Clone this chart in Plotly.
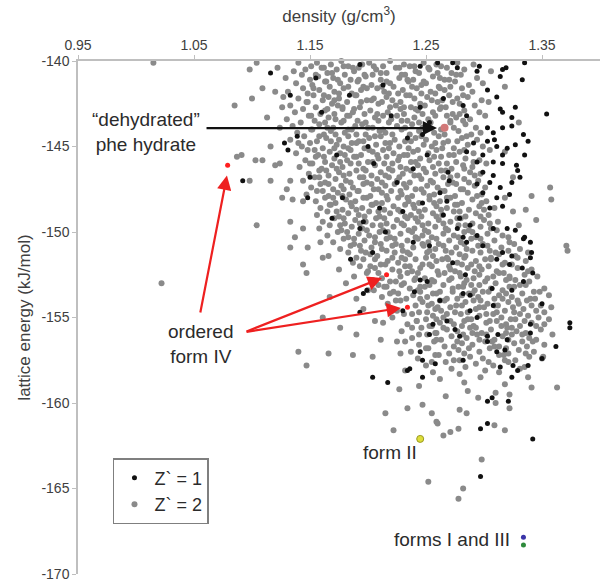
import plotly.graph_objects as go

# Computed crystal structures: (density g/cm3, lattice energy kJ/mol)
# Z' = 2 structures
gray_points = [
 (1.14,-140.1),(1.151,-140.3),(1.156,-140.1),(1.168,-140.2),(1.177,-140.0),(1.183,-140.3),(1.195,-140.2),(1.201,-140.1),(1.213,-140.3),(1.219,-140.0),(1.231,-140.2),(1.236,-140.3),(1.248,-140.1),(1.259,-140.2),(1.263,-140.3),(1.277,-140.1),(1.291,-140.2),
 (1.136,-140.6),(1.146,-140.5),(1.16,-140.4),(1.165,-140.7),(1.173,-140.5),(1.188,-140.6),(1.192,-140.4),(1.207,-140.5),(1.216,-140.7),(1.224,-140.4),(1.241,-140.6),(1.244,-140.7),(1.253,-140.5),(1.268,-140.4),(1.272,-140.7),(1.283,-140.5),(1.306,-140.6),
 (1.129,-141.0),(1.143,-140.8),(1.15,-141.1),(1.157,-140.9),(1.17,-141.0),(1.18,-140.8),(1.185,-141.1),(1.198,-140.9),(1.204,-140.8),(1.211,-141.1),(1.227,-141.0),(1.232,-140.8),(1.239,-141.1),(1.256,-140.9),(1.262,-141.0),(1.27,-141.1),(1.28,-140.8),(1.294,-141.0),
 (1.138,-141.3),(1.152,-141.4),(1.163,-141.2),(1.167,-141.5),(1.176,-141.3),(1.191,-141.2),(1.196,-141.5),(1.203,-141.4),(1.219,-141.3),(1.222,-141.5),(1.235,-141.2),(1.246,-141.4),(1.25,-141.3),(1.261,-141.5),(1.275,-141.2),(1.287,-141.4),(1.299,-141.3),
 (1.131,-141.8),(1.144,-141.6),(1.148,-141.9),(1.158,-141.7),(1.171,-141.8),(1.179,-141.6),(1.186,-141.9),(1.194,-141.7),(1.208,-141.6),(1.214,-141.8),(1.226,-141.9),(1.23,-141.7),(1.242,-141.6),(1.254,-141.8),(1.258,-141.9),(1.266,-141.7),(1.281,-141.6),(1.29,-141.8),
 (1.127,-142.1),(1.14,-142.2),(1.153,-142.0),(1.161,-142.3),(1.166,-142.1),(1.175,-142.2),(1.189,-142.0),(1.199,-142.3),(1.205,-142.2),(1.216,-142.1),(1.221,-142.3),(1.233,-142.0),(1.24,-142.2),(1.251,-142.1),(1.264,-142.3),(1.27,-142.0),(1.277,-142.2),(1.286,-142.1),(1.298,-142.3),
 (1.133,-142.6),(1.147,-142.4),(1.155,-142.7),(1.169,-142.5),(1.174,-142.6),(1.182,-142.4),(1.193,-142.7),(1.209,-142.5),(1.212,-142.4),(1.224,-142.6),(1.237,-142.7),(1.245,-142.5),(1.249,-142.6),(1.26,-142.4),(1.267,-142.7),(1.279,-142.5),(1.292,-142.6),(1.304,-142.4),
 (1.137,-143.0),(1.144,-142.8),(1.159,-143.1),(1.163,-142.9),(1.178,-142.8),(1.187,-143.0),(1.197,-143.1),(1.202,-142.9),(1.217,-143.0),(1.228,-142.8),(1.231,-143.1),(1.243,-142.9),(1.256,-143.0),(1.262,-142.8),(1.273,-143.1),(1.283,-142.9),(1.296,-143.0),
 (1.13,-143.4),(1.149,-143.2),(1.154,-143.5),(1.166,-143.3),(1.172,-143.4),(1.184,-143.2),(1.191,-143.5),(1.206,-143.3),(1.213,-143.2),(1.22,-143.4),(1.234,-143.5),(1.24,-143.3),(1.252,-143.4),(1.258,-143.2),(1.271,-143.5),(1.276,-143.3),(1.288,-143.4),(1.301,-143.2),
 (1.135,-143.8),(1.142,-143.6),(1.158,-143.7),(1.17,-143.9),(1.177,-143.6),(1.189,-143.8),(1.195,-143.7),(1.204,-143.9),(1.218,-143.6),(1.225,-143.8),(1.238,-143.7),(1.247,-143.9),(1.254,-143.6),(1.271,-143.6),(1.284,-143.7),(1.293,-143.9),
 (1.139,-144.2),(1.151,-144.0),(1.162,-144.3),(1.168,-144.1),(1.18,-144.2),(1.186,-144.0),(1.198,-144.3),(1.21,-144.1),(1.215,-144.2),(1.229,-144.0),(1.236,-144.3),(1.244,-144.1),(1.257,-144.2),(1.263,-144.0),(1.278,-144.1),(1.289,-144.3),(1.297,-144.2),
 (1.133,-144.6),(1.145,-144.4),(1.156,-144.7),(1.164,-144.5),(1.175,-144.6),(1.183,-144.4),(1.192,-144.7),(1.201,-144.5),(1.211,-144.4),(1.223,-144.6),(1.232,-144.7),(1.241,-144.5),(1.25,-144.6),(1.261,-144.4),(1.269,-144.7),(1.281,-144.5),(1.294,-144.6),
 (1.143,-145.0),(1.15,-144.8),(1.161,-145.1),(1.173,-144.9),(1.179,-145.0),(1.19,-144.8),(1.197,-145.1),(1.207,-144.9),(1.219,-144.8),(1.227,-145.0),(1.235,-145.1),(1.248,-144.9),(1.255,-145.0),(1.265,-144.8),(1.274,-145.1),(1.286,-144.9),(1.299,-145.0),
 (1.138,-145.4),(1.148,-145.2),(1.157,-145.5),(1.167,-145.3),(1.176,-145.4),(1.185,-145.2),(1.194,-145.5),(1.204,-145.3),(1.213,-145.2),(1.222,-145.4),(1.231,-145.5),(1.239,-145.3),(1.252,-145.4),(1.259,-145.2),(1.27,-145.5),(1.279,-145.3),(1.291,-145.4),(1.305,-145.2),
 (1.146,-145.8),(1.155,-145.6),(1.163,-145.9),(1.171,-145.7),(1.182,-145.8),(1.188,-145.6),(1.2,-145.9),(1.209,-145.7),(1.216,-145.6),(1.226,-145.8),(1.237,-145.9),(1.245,-145.7),(1.253,-145.8),(1.263,-145.6),(1.276,-145.9),(1.284,-145.7),(1.296,-145.8),
 (1.141,-146.2),(1.152,-146.0),(1.16,-146.3),(1.169,-146.1),(1.178,-146.2),(1.192,-146.0),(1.196,-146.3),(1.206,-146.1),(1.214,-146.0),(1.228,-146.2),(1.233,-146.3),(1.243,-146.1),(1.256,-146.2),(1.261,-146.0),(1.272,-146.3),(1.282,-146.1),(1.29,-146.2),(1.302,-146.0),
 (1.149,-146.6),(1.158,-146.4),(1.166,-146.7),(1.175,-146.5),(1.184,-146.6),(1.19,-146.4),(1.203,-146.7),(1.211,-146.5),(1.221,-146.4),(1.23,-146.6),(1.24,-146.7),(1.25,-146.5),(1.258,-146.6),(1.267,-146.4),(1.277,-146.7),(1.288,-146.5),(1.297,-146.6),
 (1.144,-147.0),(1.154,-146.8),(1.163,-147.1),(1.172,-146.9),(1.181,-147.0),(1.193,-146.8),(1.199,-147.1),(1.208,-146.9),(1.218,-146.8),(1.225,-147.0),(1.236,-147.1),(1.246,-146.9),(1.254,-147.0),(1.265,-146.8),(1.273,-147.1),(1.283,-146.9),(1.295,-147.0),
 (1.151,-147.4),(1.159,-147.2),(1.17,-147.5),(1.177,-147.3),(1.187,-147.4),(1.196,-147.2),(1.205,-147.5),(1.215,-147.3),(1.223,-147.2),(1.233,-147.4),(1.241,-147.5),(1.251,-147.3),(1.26,-147.4),(1.269,-147.2),(1.28,-147.5),(1.292,-147.3),(1.301,-147.4),
 (1.147,-147.8),(1.156,-147.6),(1.166,-147.9),(1.174,-147.7),(1.184,-147.8),(1.191,-147.6),(1.202,-147.9),(1.212,-147.7),(1.22,-147.6),(1.229,-147.8),(1.238,-147.9),(1.248,-147.7),(1.257,-147.8),(1.266,-147.6),(1.275,-147.9),(1.286,-147.7),(1.298,-147.8),
 (1.155,-148.2),(1.163,-148.0),(1.172,-148.3),(1.181,-148.1),(1.189,-148.2),(1.199,-148.0),(1.207,-148.3),(1.217,-148.1),(1.226,-148.0),(1.235,-148.2),(1.244,-148.3),(1.253,-148.1),(1.262,-148.2),(1.271,-148.0),(1.281,-148.3),(1.29,-148.1),(1.302,-148.2),(1.318,-148.0),
 (1.159,-148.6),(1.168,-148.4),(1.178,-148.7),(1.186,-148.5),(1.195,-148.6),(1.204,-148.4),(1.214,-148.7),(1.222,-148.5),(1.232,-148.4),(1.24,-148.6),(1.249,-148.7),(1.259,-148.5),(1.268,-148.6),(1.277,-148.4),(1.287,-148.7),(1.296,-148.5),(1.309,-148.6),
 (1.156,-149.0),(1.165,-148.8),(1.175,-149.1),(1.183,-148.9),(1.192,-149.0),(1.201,-148.8),(1.21,-149.1),(1.219,-148.9),(1.228,-148.8),(1.237,-149.0),(1.246,-149.1),(1.256,-148.9),(1.264,-149.0),(1.274,-148.8),(1.284,-149.1),(1.293,-148.9),(1.304,-149.0),(1.325,-148.8),
 (1.161,-149.4),(1.171,-149.2),(1.18,-149.5),(1.189,-149.3),(1.198,-149.4),(1.207,-149.2),(1.216,-149.5),(1.225,-149.3),(1.234,-149.2),(1.243,-149.4),(1.252,-149.5),(1.261,-149.3),(1.271,-149.4),(1.28,-149.2),(1.29,-149.5),(1.3,-149.3),(1.312,-149.4),
 (1.158,-149.8),(1.167,-149.6),(1.177,-149.9),(1.186,-149.7),(1.195,-149.8),(1.204,-149.6),(1.213,-149.9),(1.222,-149.7),(1.231,-149.6),(1.24,-149.8),(1.249,-149.9),(1.258,-149.7),(1.267,-149.8),(1.278,-149.6),(1.287,-149.9),(1.297,-149.7),(1.306,-149.8),(1.33,-149.6),
 (1.165,-150.2),(1.174,-150.0),(1.183,-150.3),(1.192,-150.1),(1.201,-150.2),(1.21,-150.0),(1.219,-150.3),(1.228,-150.1),(1.238,-150.0),(1.247,-150.2),(1.255,-150.3),(1.265,-150.1),(1.274,-150.2),(1.283,-150.0),(1.293,-150.3),(1.303,-150.1),(1.316,-150.2),
 (1.17,-150.6),(1.179,-150.4),(1.188,-150.7),(1.197,-150.5),(1.206,-150.6),(1.216,-150.4),(1.224,-150.7),(1.234,-150.5),(1.243,-150.4),(1.252,-150.6),(1.261,-150.7),(1.27,-150.5),(1.28,-150.6),(1.289,-150.4),(1.299,-150.7),(1.309,-150.5),(1.322,-150.6),
 (1.176,-151.0),(1.185,-150.8),(1.194,-151.1),(1.203,-150.9),(1.212,-151.0),(1.221,-150.8),(1.23,-151.1),(1.239,-150.9),(1.248,-150.8),(1.258,-151.0),(1.267,-151.1),(1.276,-150.9),(1.285,-151.0),(1.295,-150.8),(1.305,-151.1),(1.315,-150.9),(1.331,-151.0),
 (1.166,-151.4),(1.183,-151.2),(1.19,-151.5),(1.202,-151.3),(1.208,-151.4),(1.223,-151.2),(1.229,-151.5),(1.236,-151.3),(1.251,-151.2),(1.256,-151.4),(1.268,-151.5),(1.279,-151.3),(1.284,-151.4),(1.297,-151.2),(1.306,-151.5),(1.313,-151.3),(1.327,-151.4),(1.338,-151.2),
 (1.187,-151.8),(1.196,-151.6),(1.211,-151.9),(1.217,-151.7),(1.226,-151.8),(1.241,-151.6),(1.247,-151.9),(1.259,-151.7),(1.264,-151.6),(1.277,-151.8),(1.289,-151.9),(1.293,-151.7),(1.301,-151.6),(1.318,-151.8),(1.324,-151.9),(1.336,-151.7),
 (1.175,-152.2),(1.193,-152.0),(1.2,-152.3),(1.206,-152.1),(1.221,-152.2),(1.232,-152.0),(1.238,-152.3),(1.245,-152.1),(1.255,-152.0),(1.271,-152.2),(1.275,-152.3),(1.286,-152.1),(1.298,-152.2),(1.304,-152.0),(1.311,-152.3),(1.329,-152.1),(1.341,-152.2),
 (1.188,-152.6),(1.199,-152.4),(1.212,-152.7),(1.219,-152.9),(1.228,-152.6),(1.234,-152.4),(1.249,-152.7),(1.261,-152.5),(1.266,-152.4),(1.28,-152.6),(1.291,-152.7),(1.296,-152.5),(1.308,-152.6),(1.317,-152.4),(1.322,-152.7),(1.335,-152.5),(1.346,-152.6),
 (1.181,-153.0),(1.203,-152.8),(1.209,-153.1),(1.224,-152.9),(1.231,-153.0),(1.24,-152.8),(1.253,-153.1),(1.257,-152.9),(1.27,-152.8),(1.283,-153.0),(1.289,-153.1),(1.301,-152.9),(1.31,-153.0),(1.319,-152.8),(1.331,-153.1),(1.339,-152.9),
 (1.205,-153.4),(1.214,-153.2),(1.222,-153.5),(1.236,-153.3),(1.243,-153.4),(1.249,-153.2),(1.262,-153.5),(1.273,-153.3),(1.278,-153.2),(1.292,-153.4),(1.299,-153.5),(1.306,-153.3),(1.316,-153.4),(1.326,-153.2),(1.343,-153.5),(1.352,-153.3),
 (1.212,-153.8),(1.219,-153.6),(1.233,-153.9),(1.239,-153.7),(1.251,-153.8),(1.259,-153.6),(1.268,-153.9),(1.281,-153.7),(1.287,-153.6),(1.295,-153.8),(1.309,-153.9),(1.313,-153.7),(1.324,-153.8),(1.333,-153.6),(1.34,-153.9),(1.356,-153.7),
 (1.217,-154.2),(1.228,-154.0),(1.241,-154.3),(1.247,-154.1),(1.255,-154.2),(1.266,-154.0),(1.276,-154.3),(1.284,-154.1),(1.297,-154.0),(1.303,-154.2),(1.312,-154.3),(1.321,-154.1),(1.33,-154.2),(1.337,-154.0),(1.349,-154.3),
 (1.225,-154.6),(1.244,-154.7),(1.258,-154.5),(1.263,-154.6),(1.271,-154.4),(1.286,-154.7),(1.293,-154.5),(1.3,-154.4),(1.318,-154.6),(1.326,-154.7),(1.334,-154.5),(1.345,-154.6),(1.358,-154.4),
 (1.221,-155.0),(1.231,-154.8),(1.25,-155.1),(1.256,-154.9),(1.265,-155.0),(1.28,-154.8),(1.289,-155.1),(1.296,-154.9),(1.308,-154.8),(1.315,-155.0),(1.323,-155.1),(1.338,-154.9),(1.347,-155.0),
 (1.234,-155.4),(1.242,-155.2),(1.253,-155.5),(1.262,-155.3),(1.274,-155.4),(1.283,-155.2),(1.291,-155.5),(1.302,-155.3),(1.311,-155.2),(1.319,-155.4),(1.331,-155.5),(1.341,-155.3),(1.352,-155.4),
 (1.229,-155.8),(1.246,-155.6),(1.259,-155.9),(1.268,-155.7),(1.277,-155.8),(1.288,-155.6),(1.298,-155.9),(1.306,-155.7),(1.32,-155.6),(1.328,-155.8),(1.336,-155.9),(1.349,-155.7),
 (1.238,-156.2),(1.251,-156.0),(1.263,-156.3),(1.272,-156.1),(1.285,-156.2),(1.294,-156.0),(1.309,-156.3),(1.316,-156.1),(1.324,-156.0),(1.339,-156.2),(1.345,-156.3),
 (1.244,-156.6),(1.257,-156.4),(1.266,-156.7),(1.281,-156.5),(1.29,-156.6),(1.301,-156.4),(1.313,-156.7),(1.326,-156.5),(1.333,-156.4),(1.352,-156.6),
 (1.237,-157.0),(1.252,-156.8),(1.27,-157.1),(1.278,-156.9),(1.296,-157.0),(1.305,-156.8),(1.321,-157.1),(1.33,-156.9),(1.343,-157.0),
 (1.243,-157.4),(1.261,-157.2),(1.274,-157.5),(1.288,-157.3),(1.299,-157.4),(1.317,-157.2),(1.327,-157.5),(1.339,-157.3),(1.35,-157.4),
 (1.25,-157.8),(1.267,-157.6),(1.284,-157.9),(1.293,-157.7),(1.308,-157.8),(1.321,-157.6),(1.335,-157.9),
 (1.256,-158.2),(1.272,-158.0),(1.279,-158.3),(1.301,-158.1),(1.313,-158.2),(1.331,-158.0),
 (1.162,-140.4),(1.179,-140.3),(1.187,-140.4),(1.205,-140.3),(1.227,-140.4),(1.24,-140.3),(1.252,-140.4),
 (1.155,-140.8),(1.169,-140.7),(1.197,-140.8),(1.211,-140.7),(1.229,-140.8),(1.26,-140.7),(1.276,-140.8),
 (1.164,-141.2),(1.174,-141.1),(1.192,-141.1),(1.216,-141.2),(1.234,-141.1),(1.248,-141.2),(1.266,-141.1),
 (1.153,-141.6),(1.183,-141.5),(1.199,-141.6),(1.212,-141.5),(1.238,-141.5),(1.262,-141.6),(1.271,-141.5),
 (1.162,-142.0),(1.175,-141.9),(1.19,-142.0),(1.218,-141.9),(1.236,-142.0),(1.246,-141.9),(1.282,-142.0),
 (1.148,-142.4),(1.171,-142.3),(1.194,-142.4),(1.203,-142.3),(1.228,-142.4),(1.255,-142.3),(1.273,-142.4),
 (1.165,-142.8),(1.178,-142.7),(1.188,-142.8),(1.219,-142.7),(1.231,-142.7),(1.241,-142.8),(1.263,-142.7),
 (1.151,-143.2),(1.171,-143.1),(1.182,-143.2),(1.208,-143.1),(1.225,-143.2),(1.247,-143.1),(1.268,-143.2),(1.279,-143.1),
 (1.163,-143.6),(1.179,-143.5),(1.198,-143.6),(1.209,-143.5),(1.229,-143.5),(1.244,-143.6),(1.282,-143.5),
 (1.152,-144.0),(1.165,-143.9),(1.183,-144.0),(1.2,-143.9),(1.213,-144.0),(1.232,-143.9),(1.25,-144.0),(1.274,-143.9),
 (1.158,-144.4),(1.172,-144.3),(1.19,-144.3),(1.206,-144.4),(1.221,-144.3),(1.246,-144.4),(1.266,-144.3),(1.285,-144.4),
 (1.14,-144.8),(1.168,-144.7),(1.186,-144.8),(1.196,-144.7),(1.215,-144.8),(1.237,-144.7),(1.258,-144.8),(1.277,-144.7),
 (1.154,-145.2),(1.171,-145.1),(1.183,-145.1),(1.201,-145.2),(1.218,-145.1),(1.243,-145.2),(1.264,-145.1),(1.283,-145.2),
 (1.162,-145.6),(1.18,-145.5),(1.19,-145.6),(1.208,-145.5),(1.227,-145.6),(1.234,-145.5),(1.257,-145.6),(1.274,-145.5),
 (1.15,-146.0),(1.176,-145.9),(1.185,-146.0),(1.204,-145.9),(1.221,-146.0),(1.241,-145.9),(1.268,-146.0),(1.291,-145.9),
 (1.164,-146.4),(1.173,-146.3),(1.198,-146.4),(1.218,-146.3),(1.237,-146.4),(1.248,-146.3),(1.263,-146.4),(1.283,-146.3),
 (1.158,-146.8),(1.179,-146.7),(1.196,-146.8),(1.215,-146.7),(1.227,-146.8),(1.244,-146.7),(1.271,-146.8),(1.292,-146.7),
 (1.166,-147.2),(1.185,-147.1),(1.203,-147.2),(1.212,-147.1),(1.231,-147.2),(1.256,-147.1),(1.276,-147.2),(1.287,-147.1),
 (1.161,-147.6),(1.179,-147.5),(1.192,-147.6),(1.209,-147.5),(1.228,-147.6),(1.246,-147.5),(1.263,-147.6),(1.282,-147.5),
 (1.17,-148.0),(1.178,-147.9),(1.196,-148.0),(1.216,-147.9),(1.234,-148.0),(1.253,-147.9),(1.268,-148.0),(1.294,-147.9),
 (1.167,-148.4),(1.185,-148.3),(1.203,-148.4),(1.212,-148.3),(1.239,-148.4),(1.257,-148.3),(1.275,-148.4),(1.298,-148.3),
 (1.173,-148.8),(1.19,-148.7),(1.209,-148.8),(1.226,-148.7),(1.244,-148.8),(1.263,-148.7),(1.279,-148.8),(1.3,-148.7),
 (1.179,-149.2),(1.197,-149.1),(1.214,-149.2),(1.232,-149.1),(1.241,-149.2),(1.259,-149.1),(1.277,-149.2),(1.297,-149.1),
 (1.176,-149.6),(1.193,-149.5),(1.211,-149.6),(1.229,-149.5),(1.247,-149.6),(1.265,-149.5),(1.284,-149.6),(1.305,-149.5),
 (1.182,-150.0),(1.199,-149.9),(1.217,-150.0),(1.235,-149.9),(1.252,-150.0),(1.269,-149.9),(1.29,-150.0),(1.311,-149.9),
 (1.188,-150.4),(1.206,-150.3),(1.223,-150.4),(1.241,-150.3),(1.259,-150.4),(1.278,-150.3),(1.297,-150.4),(1.321,-150.3),
 (1.193,-150.8),(1.211,-150.7),(1.229,-150.8),(1.247,-150.7),(1.265,-150.8),(1.283,-150.7),(1.303,-150.8),(1.326,-150.7),
 (1.198,-151.2),(1.216,-151.1),(1.234,-151.2),(1.253,-151.1),(1.272,-151.2),(1.29,-151.1),(1.31,-151.2),(1.321,-151.1),
 (1.206,-151.6),(1.221,-151.5),(1.232,-151.6),(1.25,-151.5),(1.269,-151.6),(1.283,-151.5),(1.306,-151.6),(1.329,-151.5),
 (1.202,-152.0),(1.215,-151.9),(1.236,-152.0),(1.253,-151.9),(1.27,-152.0),(1.281,-151.9),(1.296,-152.0),(1.316,-151.9),
 (1.209,-152.4),(1.227,-152.3),(1.243,-152.4),(1.26,-152.3),(1.279,-152.4),(1.292,-152.3),(1.313,-152.4),(1.338,-152.3),
 (1.204,-152.8),(1.241,-152.7),(1.255,-152.8),(1.272,-152.7),(1.285,-152.8),(1.303,-152.7),(1.327,-152.8),
 (1.216,-153.2),(1.229,-153.1),(1.245,-153.2),(1.265,-153.1),(1.282,-153.2),(1.296,-153.1),(1.322,-153.2),(1.336,-153.1),
 (1.226,-153.6),(1.245,-153.5),(1.256,-153.6),(1.273,-153.5),(1.29,-153.6),(1.304,-153.5),(1.319,-153.6),(1.348,-153.5),
 (1.224,-154.0),(1.245,-153.9),(1.262,-154.0),(1.277,-153.9),(1.291,-154.0),(1.316,-153.9),(1.329,-154.0),(1.344,-153.9),
 (1.252,-154.3),(1.26,-154.4),(1.281,-154.3),(1.296,-154.4),(1.309,-154.3),(1.325,-154.4),(1.341,-154.3),
 (1.238,-154.8),(1.251,-154.7),(1.268,-154.8),(1.275,-154.7),(1.302,-154.8),(1.311,-154.7),(1.331,-154.8),(1.352,-154.7),
 (1.242,-155.2),(1.259,-155.1),(1.271,-155.2),(1.286,-155.1),(1.305,-155.2),(1.327,-155.1),(1.335,-155.2),(1.356,-155.1),
 (1.238,-155.6),(1.255,-155.5),(1.265,-155.6),(1.281,-155.5),(1.293,-155.6),(1.315,-155.5),(1.324,-155.6),(1.345,-155.5),
 (1.244,-156.0),(1.258,-155.9),(1.282,-156.0),(1.29,-155.9),(1.302,-156.0),(1.319,-155.9),(1.333,-156.0),
 (1.232,-156.4),(1.259,-156.3),(1.277,-156.4),(1.296,-156.3),(1.307,-156.4),(1.321,-156.3),(1.342,-156.4),
 (1.25,-156.8),(1.274,-156.7),(1.287,-156.8),(1.309,-156.7),(1.319,-156.8),(1.337,-156.7),
 (1.258,-157.2),(1.283,-157.1),(1.313,-157.2),(1.336,-157.1),
 (1.255,-157.6),(1.279,-157.5),(1.304,-157.6),(1.318,-157.5),
 (1.262,-158.6),(1.283,-158.8),(1.297,-158.5),(1.318,-158.9),(1.338,-158.5),(1.341,-159.1),(1.363,-159.1),(1.286,-159.3),
 (1.31,-159.4),(1.322,-159.5),(1.295,-159.7),(1.31,-160.0),(1.322,-160.3),(1.247,-160.1),(1.234,-160.3),(1.255,-160.6),
 (1.279,-160.4),(1.285,-160.6),(1.215,-160.6),(1.222,-161.6),(1.26,-161.2),(1.265,-161.9),(1.271,-161.7),(1.278,-161.5),
 (1.309,-161.3),(1.318,-161.6),(1.298,-163.3),(1.252,-164.6),(1.282,-165.0),(1.278,-165.6),(1.227,-159.2),(1.244,-159.0),
 (1.267,-159.6),(1.259,-161.1),
 (1.015,-140.1),(1.098,-140.5),(1.104,-140.1),(1.109,-141.6),(1.12,-141.8),(1.122,-140.4),(1.1,-142.2),(1.085,-142.6),
 (1.126,-142.7),(1.113,-143.3),(1.124,-143.9),(1.116,-145.0),(1.091,-145.5),(1.087,-145.6),(1.103,-145.8),(1.109,-145.8),
 (1.12,-146.1),(1.124,-146.0),(1.098,-147.0),(1.116,-147.0),(1.133,-147.0),(1.13,-147.5),(1.104,-149.6),(1.126,-148.0),
 (1.135,-148.1),(1.144,-148.2),(1.133,-149.4),(1.144,-149.8),(1.137,-150.3),(1.148,-150.9),(1.133,-150.9),(1.159,-150.6),
 (1.144,-151.9),(1.161,-151.5),(1.147,-152.4),(1.022,-153.0),
 (1.14,-157.0),(1.147,-157.8),(1.166,-157.1),(1.187,-157.2),(1.204,-157.3),(1.19,-156.0),(1.211,-156.3),(1.225,-156.4),
 (1.167,-153.8),(1.19,-153.9),(1.2,-153.4),(1.206,-155.2),(1.213,-155.3),(1.161,-155.0),(1.221,-154.6),(1.228,-157.1),
 (1.232,-158.1),(1.196,-154.5),(1.176,-155.6),
 (1.357,-147.4),(1.358,-148.1),(1.371,-150.8),(1.372,-151.1),(1.359,-156.0),(1.351,-157.3),
 (1.318,-141.5),(1.33,-143.6),(1.325,-146.8),(1.336,-148.7),(1.345,-149.3),(1.318,-145.3),(1.341,-147.9),(1.322,-152.6),
]

# Z' = 1 structures
black_points = [
 (1.335,-140.1),(1.273,-140.1),(1.277,-140.4),(1.294,-140.6),(1.316,-140.5),(1.314,-140.9),(1.333,-141.1),(1.303,-141.7),
 (1.311,-142.1),(1.314,-142.8),(1.327,-142.7),(1.316,-143.0),(1.324,-143.3),(1.354,-143.1),(1.303,-143.9),(1.308,-144.2),
 (1.316,-143.9),(1.324,-143.8),(1.334,-144.3),(1.338,-144.7),(1.291,-144.8),(1.303,-144.7),(1.311,-145.0),(1.32,-145.1),
 (1.327,-144.9),(1.285,-145.3),(1.299,-145.5),(1.316,-145.5),(1.335,-145.5),(1.294,-145.9),(1.308,-145.9),(1.316,-146.0),
 (1.328,-146.1),(1.299,-146.5),(1.308,-146.7),(1.329,-146.4),(1.294,-147.2),(1.305,-147.1),(1.314,-147.4),(1.324,-147.1),
 (1.331,-146.8),(1.299,-147.7),(1.311,-148.0),(1.322,-147.8),(1.305,-148.6),(1.316,-148.5),(1.268,-148.2),(1.269,-146.5),
 (1.251,-145.5),(1.247,-144.3),(1.234,-144.5),(1.253,-143.6),(1.265,-142.2),(1.282,-142.6),(1.285,-143.2),(1.262,-147.7),
 (1.279,-149.2),(1.288,-149.6),(1.282,-150.3),(1.277,-149.8),(1.285,-150.6),(1.294,-150.2),(1.299,-150.8),(1.308,-149.8),
 (1.32,-149.8),(1.327,-149.9),(1.334,-150.4),(1.34,-150.6),(1.316,-151.2),(1.324,-151.4),(1.311,-151.6),(1.322,-151.9),
 (1.333,-152.1),(1.34,-151.5),(1.273,-151.8),(1.253,-150.8),(1.204,-151.2),(1.193,-149.8),(1.178,-148.0),(1.173,-145.5),
 (1.184,-142.0),(1.213,-141.4),(1.245,-142.7),(1.239,-146.3),(1.225,-147.1),(1.21,-148.6),(1.196,-149.4),(1.23,-148.8),
 (1.247,-148.3),(1.239,-150.6),
 (1.245,-152.8),(1.251,-152.9),(1.284,-152.5),(1.288,-153.7),(1.307,-153.3),(1.324,-153.4),(1.334,-152.9),(1.342,-152.4),
 (1.35,-154.2),(1.308,-154.3),(1.294,-155.0),(1.275,-155.7),(1.268,-155.2),(1.253,-156.0),(1.245,-157.0),(1.247,-157.5),
 (1.258,-157.7),(1.236,-158.0),(1.247,-158.5),(1.282,-157.5),(1.303,-156.1),(1.303,-156.4),(1.312,-156.0),(1.32,-156.3),
 (1.318,-156.9),(1.311,-157.0),(1.314,-157.9),(1.325,-157.8),(1.329,-158.1),(1.338,-157.8),(1.34,-155.4),(1.34,-155.9),
 (1.374,-155.3),(1.374,-155.6),(1.362,-156.7),(1.35,-157.4),(1.324,-158.5),(1.321,-159.9),(1.303,-159.9),(1.307,-159.7),
 (1.303,-161.2),(1.297,-161.5),(1.342,-162.1),(1.297,-164.3),(1.282,-153.6),(1.262,-154.0),(1.288,-154.6),(1.196,-153.6),
 (1.199,-153.4),(1.193,-154.7),(1.23,-154.6),(1.204,-158.5),(1.217,-158.8),(1.234,-158.1),(1.256,-155.4),(1.279,-156.1),
 (1.116,-140.7),(1.133,-142.0),(1.128,-144.8),(1.131,-145.2),(1.139,-144.4),(1.092,-147.0),(1.148,-148.0),(1.169,-149.2),
 (1.193,-140.2),(1.245,-140.3),(1.26,-140.1),(1.296,-140.3),(1.319,-140.4),(1.309,-144.6),(1.335,-150.3),(1.341,-151.2),
 (1.16,-143.0),(1.15,-146.8),(1.2,-145.0),(1.22,-143.2),(1.185,-151.6),(1.215,-150.0),(1.265,-149.0),(1.24,-153.5),
 (1.27,-147.0),(1.155,-141.0),(1.205,-146.0),
]

# Experimental forms
hydrate_point = (1.266, -143.9)
form_iv_points = [(1.079, -146.1), (1.216, -152.5), (1.234, -154.4)]
form_ii_point = (1.245, -162.1)
form_i_point = (1.334, -167.85)
form_iii_point = (1.334, -168.3)

density_ticks = [0.95, 1.05, 1.15, 1.25, 1.35]
energy_ticks = [-140, -145, -150, -155, -160, -165, -170]

FONT = "Liberation Sans, Arial, sans-serif"
TEXT = "#2b2b2b"
AXIS = "#bfbfbf"


def xs(pts):
    return [p[0] for p in pts]


def ys(pts):
    return [p[1] for p in pts]


fig = go.Figure()

fig.add_trace(go.Scatter(
    x=xs(gray_points), y=ys(gray_points), mode="markers", name="Z` = 2",
    marker=dict(size=6, color="#8a8a8a"), legendrank=2, cliponaxis=False))
fig.add_trace(go.Scatter(
    x=xs(black_points), y=ys(black_points), mode="markers", name="Z` = 1",
    marker=dict(size=5, color="#111111"), legendrank=1, cliponaxis=False))

fig.add_trace(go.Scatter(
    x=[hydrate_point[0]], y=[hydrate_point[1]], mode="markers", showlegend=False,
    marker=dict(size=8, color="#d27878")))
fig.add_trace(go.Scatter(
    x=xs(form_iv_points), y=ys(form_iv_points), mode="markers", showlegend=False,
    marker=dict(size=5, color="#ff1f1f")))
fig.add_trace(go.Scatter(
    x=[form_ii_point[0]], y=[form_ii_point[1]], mode="markers", showlegend=False,
    marker=dict(size=7, color="#dede3a", line=dict(color="#9a9a22", width=1))))
fig.add_trace(go.Scatter(
    x=[form_i_point[0]], y=[form_i_point[1]], mode="markers", showlegend=False,
    marker=dict(size=5, color="#3a34a8")))
fig.add_trace(go.Scatter(
    x=[form_iii_point[0]], y=[form_iii_point[1]], mode="markers", showlegend=False,
    marker=dict(size=5, color="#2e8a3c")))


def label(text, x, y):
    return dict(text=text, x=x, y=y, xref="x", yref="y", showarrow=False,
                xanchor="center", yanchor="middle", align="center",
                font=dict(family=FONT, size=19, color=TEXT))


def arrow(x0, y0, x1, y1, color):
    return dict(text="", x=x1, y=y1, ax=x0, ay=y0, xref="x", yref="y",
                axref="x", ayref="y", showarrow=True, arrowhead=2,
                arrowsize=1.3, arrowwidth=2.2, arrowcolor=color, standoff=0)


annotations = [
    label("\u201cdehydrated\u201d<br>phe hydrate", 1.0086, -144.15),
    label("ordered<br>form IV", 1.056, -156.55),
    label("form II", 1.219, -162.92),
    label("forms I and III", 1.2724, -168.0),
    arrow(1.0595, -143.92, 1.2595, -143.92, "#111111"),
    arrow(1.0552, -154.8, 1.0784, -146.7, "#ee2020"),
    arrow(1.094, -155.85, 1.212, -152.69, "#ee2020"),
    arrow(1.094, -155.85, 1.2284, -154.44, "#ee2020"),
]

fig.update_layout(
    template="none",
    width=600, height=584,
    margin=dict(l=78, r=0, t=61, b=10),
    paper_bgcolor="white", plot_bgcolor="white",
    font=dict(family=FONT, color="#404040"),
    annotations=annotations,
    showlegend=True,
    legend=dict(x=0.067, y=0.226, xanchor="left", yanchor="top",
                bordercolor="#7f7f7f", borderwidth=1.5, bgcolor="white",
                font=dict(family=FONT, size=18, color=TEXT)),
)

fig.update_xaxes(
    side="top", range=[0.95, 1.40], tickvals=density_ticks,
    ticktext=[f"{v:.2f}" for v in density_ticks],
    showline=True, linecolor=AXIS, linewidth=1.5, mirror=False,
    ticks="outside", ticklen=4, tickcolor=AXIS, showgrid=False, zeroline=False,
    tickfont=dict(size=14, color="#404040"), automargin=False,
    title=dict(text="density (g/cm<sup>3</sup>)", font=dict(size=17, color="#404040"), standoff=10))

fig.update_yaxes(
    range=[-170, -140], tickvals=energy_ticks,
    ticktext=[str(v) for v in energy_ticks],
    showline=True, linecolor=AXIS, linewidth=1.5,
    ticks="outside", ticklen=4, tickcolor=AXIS, showgrid=False, zeroline=False,
    tickfont=dict(size=14, color="#404040"), automargin=False,
    title=dict(text="lattice energy (kJ/mol)", font=dict(size=17, color="#404040"), standoff=6))

fig.write_html("out.html")
